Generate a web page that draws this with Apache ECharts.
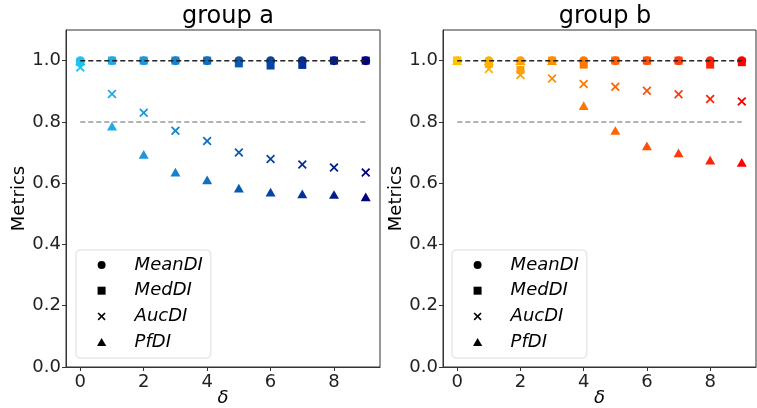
<!DOCTYPE html>
<html>
<head>
<meta charset="utf-8">
<script src="https://cdn.jsdelivr.net/npm/echarts@6/dist/echarts.min.js"></script>
<style>
html,body{margin:0;padding:0;background:#fff;}
#chart{width:757px;height:408px;}
</style>
</head>
<body>
<div id="chart"></div>
<script>
var deltas = [0, 1, 2, 3, 4, 5, 6, 7, 8, 9];
var xTicks = [0, 2, 4, 6, 8];
var yTicks = [0, 0.2, 0.4, 0.6, 0.8, 1.0];
var titles = ['group a', 'group b'];
var metricNames = ['MeanDI', 'MedDI', 'AucDI', 'PfDI'];

var aMean = [1.0, 1.0, 1.0, 1.0, 1.0, 1.0, 1.0, 1.0, 1.0, 1.0];
var aMed  = [0.995, 1.0, 1.0, 1.0, 1.0, 0.991, 0.984, 0.986, 1.0, 1.0];
var aAuc  = [0.978, 0.891, 0.830, 0.771, 0.738, 0.700, 0.679, 0.661, 0.651, 0.635];
var aPf   = [1.0, 0.786, 0.694, 0.636, 0.611, 0.584, 0.571, 0.565, 0.563, 0.555];

var bMean = [1.0, 1.0, 1.0, 1.0, 1.0, 1.0, 1.0, 1.0, 1.0, 1.0];
var bMed  = [1.0, 0.989, 0.970, 1.0, 0.987, 1.0, 1.0, 1.0, 0.987, 0.995];
var bAuc  = [1.0, 0.973, 0.953, 0.942, 0.924, 0.915, 0.902, 0.890, 0.875, 0.867];
var bPf   = [1.0, 1.0, 1.0, 1.0, 0.853, 0.772, 0.722, 0.699, 0.675, 0.668];

var refTop = 1.0;
var refLow = 0.8;

var colorsA = ['#1fc3f2', '#21aae4', '#1c97da', '#1684cc', '#106fc0', '#0a5ab2', '#0745a5', '#043199', '#021e8c', '#000080'];
var colorsB = ['#ffc300', '#ffb200', '#ffa000', '#ff8d00', '#ff7600', '#ff6208', '#ff500a', '#ff3c0c', '#ff2408', '#ff0000'];

var xPath = 'path://M0,1.4 L1.4,0 L5,3.6 L8.6,0 L10,1.4 L6.4,5 L10,8.6 L8.6,10 L5,6.4 L1.4,10 L0,8.6 L3.6,5 Z';
var sqPath = 'path://M0,0 L10,0 L10,10 L0,10 Z';
var triPath = 'path://M5,0 L10,8.7 L0,8.7 Z';
var symbols = ['circle', sqPath, xPath, triPath];
var sizes = [9, 8, 9, 10];

function pts(vals, colors) {
  return deltas.map(function (d, i) {
    return { value: [d, vals[i]], itemStyle: { color: colors[i] } };
  });
}

var font = 'DejaVu Sans';
var grids = [
  { left: 66, right: 377, top: 30, bottom: 41, show: true, borderColor: '#333', borderWidth: 1, containLabel: false, outerBoundsMode: 'none' },
  { left: 443, right: 1, top: 30, bottom: 41, show: true, borderColor: '#333', borderWidth: 1, containLabel: false, outerBoundsMode: 'none' }
];

function xAxis(gi) {
  return {
    gridIndex: gi, type: 'value', min: -0.45, max: 9.45,
    name: 'δ', nameLocation: 'middle', nameGap: 22, nameMoveOverlap: false,
    nameTextStyle: { fontFamily: font, fontSize: 18, fontStyle: 'italic', color: '#000' },
    axisLine: { show: true, onZero: false, lineStyle: { color: '#333' } },
    axisTick: { show: true, inside: false, length: 4, customValues: xTicks, lineStyle: { color: '#333' } },
    axisLabel: { show: true, customValues: xTicks, margin: 6, fontFamily: font, fontSize: 18, color: '#222' },
    splitLine: { show: false }
  };
}
function yAxis(gi) {
  return {
    gridIndex: gi, type: 'value', min: 0, max: 1.1,
    name: 'Metrics', nameLocation: 'middle', nameGap: 38, nameMoveOverlap: false,
    nameTextStyle: { fontFamily: font, fontSize: 18, color: '#000' },
    axisLine: { show: true, onZero: false, lineStyle: { color: '#333' } },
    axisTick: { show: true, inside: false, length: 4, customValues: yTicks, lineStyle: { color: '#333' } },
    axisLabel: { show: true, customValues: yTicks, margin: 5, fontFamily: font, fontSize: 18, color: '#222',
      formatter: function (v) { return v.toFixed(1); } },
    splitLine: { show: false }
  };
}

var series = [];
[[aMean, aMed, aAuc, aPf, colorsA], [bMean, bMed, bAuc, bPf, colorsB]].forEach(function (g, gi) {
  for (var k = 0; k < 4; k++) {
    series.push({
      type: 'scatter', name: metricNames[k], xAxisIndex: gi, yAxisIndex: gi,
      symbol: symbols[k], symbolSize: sizes[k], symbolKeepAspect: true,
      itemStyle: { color: '#000', opacity: 1 },
      data: pts(g[k], g[4]), z: 2 + k
    });
  }
  series.push({
    type: 'line', name: 'ref1', xAxisIndex: gi, yAxisIndex: gi, symbol: 'none', silent: true, z: 10,
    lineStyle: { color: '#222', type: [5, 3], width: 1.5 },
    data: [[deltas[0], refTop], [deltas[deltas.length - 1], refTop]]
  });
  series.push({
    type: 'line', name: 'ref2', xAxisIndex: gi, yAxisIndex: gi, symbol: 'none', silent: true, z: 10,
    lineStyle: { color: '#999', type: [5, 3], width: 1.5 },
    data: [[deltas[0], refLow], [deltas[deltas.length - 1], refLow]]
  });
});

function legend(left) {
  return {
    orient: 'vertical', left: left, top: 250,
    data: metricNames,
    itemWidth: 56, itemHeight: 8, itemGap: 5.7,
    symbolKeepAspect: true,
    padding: [5, 8, 6, 21],
    borderColor: '#ddd', borderWidth: 1, borderRadius: 4, backgroundColor: '#fff',
    selectedMode: false,
    textStyle: { fontFamily: font, fontSize: 18, fontStyle: 'italic', color: '#000', lineHeight: 20 }
  };
}

var chart = echarts.init(document.getElementById('chart'), null, { renderer: 'canvas' });
chart.setOption({
  animation: false,
  backgroundColor: '#fff',
  title: [
    { text: titles[0], left: 223, top: 0, textAlign: 'center', textStyle: { fontFamily: font, fontSize: 24, fontWeight: 'normal', color: '#000' } },
    { text: titles[1], left: 600, top: 0, textAlign: 'center', textStyle: { fontFamily: font, fontSize: 24, fontWeight: 'normal', color: '#000' } }
  ],
  grid: grids,
  xAxis: [xAxis(0), xAxis(1)],
  yAxis: [yAxis(0), yAxis(1)],
  legend: [legend(76), legend(452)],
  series: series
});
</script>
</body>
</html>
